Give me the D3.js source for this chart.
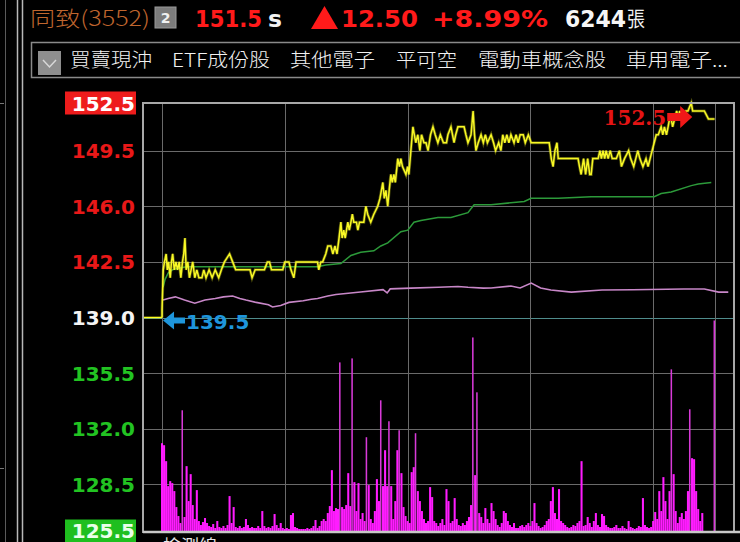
<!DOCTYPE html>
<html>
<head>
  <meta charset="utf-8">
  <style>
    body { margin: 0; background: #000; }
    svg { display: block; background: #000; }
    .tick line { display: none; }
    .domain { display: none; }
    .ylab text { font-family: "DejaVu Sans", Verdana, sans-serif; font-weight: bold; font-size: 20px; }
    .grid line { stroke: #6a6a6a; stroke-width: 1.2px; shape-rendering: crispEdges; }
    path.line { fill: none; }
  </style>
  <script src="https://d3js.org/d3.v7.min.js"></script>
</head>
<body>
<div id="chart"></div>
<script>
  // stock header
  var stockName = "同致(3552)";
  var lastPrice = "151.5";
  var change = "12.50";
  var changePct = "+8.99%";
  var totalVol = "6244";
  var groupTabs = ["買賣現沖", "ETF成份股", "其他電子", "平可空", "電動車概念股", "車用電子..."];

  // price axis
  var prevClose = 139.0;
  var priceTicks = [152.5, 149.5, 146.0, 142.5, 139.0, 135.5, 132.0, 128.5, 125.5];
  // minutes after 9:00, grid every hour, close at 13:30
  var timeTicks = [0, 60, 120, 180, 240, 270];
  var highMark = [258.6, 152.5];
  var lowMark = [0, 139.5];

  // trades [minute, price]
  var trades = [
    [0,139.5],[0.6,142.0],[1.2,142.5],[2,143.0],[2.6,142.0],[3.2,142.5],[4,141.5],[4.6,142.5],[5.2,143.0],[6,142.0],
    [6.8,142.5],[7.6,142.0],[8.4,142.5],[9.2,141.5],[10,142.5],[10.6,143.0],[11.2,144.0],[11.8,142.0],[12.6,142.5],[13.4,141.5],
    [14.2,142.0],[15,142.5],[16,141.5],[17,142.0],[18,141.5],[19.5,141.5],[20.4,142.0],[21.5,141.5],[23,142.0],[24.5,141.5],
    [26,142.0],[27.7,141.5],[29,142.0],[30.5,142.5],[33,143.0],[34.5,142.5],[36,142.0],[43,142.0],[44,141.5],[45.5,142.0],
    [50,142.0],[51.5,142.5],[52.5,142.5],[53.5,142.0],[59,142.0],[60,142.5],[62,142.5],[63,142.0],[64.4,141.5],[65.5,142.5],
    [76,142.5],[76.6,142.0],[77.6,142.5],[78.5,142.5],[80,143.0],[81,143.5],[82.5,143.5],[83.5,143.0],[84.5,143.5],[85.5,143.0],
    [86.5,144.0],[87.4,145.0],[88,144.0],[88.8,144.5],[89.5,144.0],[90.8,145.0],[91.5,144.5],[92.3,145.0],[93,145.5],[93.7,145.0],
    [95,145.0],[95.7,144.5],[96.5,145.0],[98.6,145.0],[99.6,146.0],[100.5,145.5],[102,145.0],[103.5,145.5],[105.4,146.0],[106.5,146.5],
    [107.9,147.5],[108.6,146.5],[109.4,147.0],[110.3,146.0],[111,147.0],[111.8,148.0],[112.5,147.5],[113.3,148.0],[114,147.5],[115.2,149.0],
    [116,148.5],[116.7,149.0],[117.5,148.5],[119.2,148.0],[120,148.5],[120.6,148.0],[121.6,149.5],[122.6,151.0],[123.3,150.5],[124,150.0],
    [125,150.5],[126,149.5],[126.8,150.5],[128,150.0],[129,150.0],[130,149.5],[131.2,150.5],[132.4,151.0],[133.5,150.5],[134.8,150.0],
    [136,150.5],[137.5,150.0],[139,150.0],[139.7,150.5],[141.2,151.0],[142.7,150.0],[143.5,150.5],[144.6,151.0],[147.6,151.0],[148.5,150.5],
    [149.5,150.0],[151,150.5],[152,152.0],[152.7,150.5],[153.4,149.5],[154.5,150.0],[155.9,150.5],[157,150.0],[158,150.5],[159,150.0],
    [160.8,150.5],[162,150.0],[163,149.5],[164.5,150.0],[165.6,149.5],[166.5,150.5],[167.5,150.0],[168.5,150.5],[169.5,150.0],[170.5,150.5],
    [172,150.0],[173,150.5],[174,150.0],[175,150.5],[176.5,150.5],[177.5,150.0],[179,150.5],[180.4,150.0],[189.2,150.0],[190.2,149.0],
    [191.1,148.5],[192,149.5],[193,150.0],[193.6,149.0],[203.3,149.0],[204,148.5],[204.8,148.0],[206,149.0],[207,148.0],[208,149.0],
    [209,148.0],[209.7,148.0],[210.5,149.0],[213.1,149.0],[214,149.5],[214.7,149.0],[215.5,149.5],[216.3,149.0],[217,149.5],[218,149.0],
    [219,149.5],[220,149.0],[222,149.0],[223.5,149.5],[224.5,148.5],[226,149.0],[228,149.5],[229,149.0],[230.5,148.5],[231.5,149.0],
    [232.5,149.5],[233.5,149.0],[235,148.5],[236.5,149.0],[237.5,148.5],[238.5,149.0],[239.5,149.5],[240.5,150.0],[241.5,150.5],[242.5,150.5],
    [243.9,151.0],[244.7,150.5],[245.5,151.0],[246.5,150.5],[247.3,151.0],[248,151.5],[248.8,151.5],[249.5,151.0],[250.5,151.5],[251.5,152.0],
    [252.2,151.5],[253,152.0],[254,151.5],[255.2,151.5],[256,152.0],[257,152.0],[258.6,152.5],[259.3,152.0],[265,152.0],[267,151.5],
    [270,151.5]
  ];

  // average price [minute, price]
  var avgPrice = [
    [0.5,140.9],[1.5,141.4],[3,141.8],[5,142.0],[8,142.1],[12,142.2],[76,142.2],[80,142.3],[87.4,142.4],[92.3,142.9],
    [97.1,143.1],[103.5,143.2],[106.9,143.5],[110.3,143.7],[116.7,144.4],[120.1,144.5],[123.1,145.0],[126.5,145.1],[134.8,145.3],[141.2,145.3],
    [149.5,145.6],[152.5,146.1],[160.8,146.1],[177,146.3],[180.4,146.5],[193.6,146.5],[209.7,146.6],[240.5,146.6],[243.9,146.8],[248.8,146.9],
    [258.6,147.3],[262,147.4],[268.4,147.5]
  ];

  // reference (index) line in price units [minute, value]
  var refLine = [
    [0.5,140.1],[3,140.2],[6.5,140.3],[11,140.1],[16,139.9],[21,140.1],[26,140.2],[30,140.3],[34.5,140.35],[38,140.2],
    [41,140.1],[46,139.95],[52,139.8],[54,139.66],[58,139.75],[62,139.95],[69,140.05],[73,140.15],[76,140.2],[81,140.35],
    [85,140.45],[97,140.6],[108,140.75],[110,140.55],[111.5,140.8],[121.6,140.85],[135,140.9],[144.6,140.95],[149.5,140.9],[157,140.85],
    [160.8,140.86],[170.5,140.98],[175,140.86],[180.4,141.17],[185,140.86],[190,140.73],[200,140.6],[215,140.73],[230,140.75],[255,140.79],
    [265,140.79],[272,140.6],[276.7,140.6]
  ];

  // volume per minute (張), minute 0..270
  var volume = [
    88,86,70,45,50,48,40,24,15,8,
    121,14,65,30,57,26,12,41,10,6,
    9,13,8,5,4,7,3,10,4,3,
    5,3,6,35,8,24,4,3,5,3,
    4,12,6,3,4,3,3,5,3,20,
    5,3,4,3,5,17,6,3,8,3,
    2,3,2,16,18,4,3,2,2,2,
    2,3,2,3,5,11,3,5,10,12,
    10,18,25,61,20,23,22,169,24,22,
    26,58,25,173,49,20,48,12,18,10,
    94,46,12,8,20,52,30,131,45,81,
    45,110,45,12,30,81,101,58,24,15,
    10,8,59,64,98,40,30,20,12,8,
    10,44,34,10,8,5,8,12,6,42,
    30,8,10,33,12,6,5,8,6,10,
    14,26,194,56,139,18,14,8,23,12,
    8,28,20,12,6,4,8,20,18,10,
    6,4,8,3,3,5,6,4,6,8,
    5,10,28,8,5,3,4,6,10,12,
    30,44,18,12,42,10,8,6,4,3,
    4,6,5,8,10,70,5,6,14,8,
    4,10,18,6,4,17,15,6,4,3,
    3,4,6,3,3,5,3,2,10,4,
    3,2,3,5,4,33,6,4,3,4,
    10,19,12,40,20,54,30,12,40,162,
    57,20,8,14,18,12,20,40,122,73,
    72,40,22,10,18,0,0,0,0,0,
    211
  ];

  var W = 740, H = 542;
  var plot = { left: 143, right: 734, top: 103, bottom: 532 };

  var svg = d3.select("#chart").append("svg")
    .attr("width", W)
    .attr("height", H);

  var x = d3.scaleLinear().domain([-9.3, 279.5]).range([plot.left, plot.right]);
  var y = d3.scaleLinear().domain([125.5, 152.5]).range([plot.bottom, plot.top]);
  var yVol = d3.scaleLinear().domain([0, 214]).range([plot.bottom - 1, y(prevClose)]);

  // ---- outer frame on the left ----
  svg.append("line").attr("x1", 5.5).attr("x2", 5.5).attr("y1", 0).attr("y2", H)
    .attr("stroke", "#5a5a5a").attr("stroke-width", 1);
  [17.5, 22.5].forEach(function(xx) {
    svg.append("line").attr("x1", xx).attr("x2", xx).attr("y1", 0).attr("y2", H)
      .attr("stroke", "#b8b8b8").attr("stroke-width", 1.5);
  });
  [103.5, 468.5].forEach(function(yy) {
    svg.append("line").attr("x1", 0).attr("x2", 4).attr("y1", yy).attr("y2", yy)
      .attr("stroke", "#777");
  });

  // ---- header ----
  var head = svg.append("g");
  head.append("text").attr("x", 30).attr("y", 26)
    .attr("textLength", 120).attr("lengthAdjust", "spacingAndGlyphs")
    .style("font-family", "'Noto Sans CJK TC', sans-serif").style("font-size", "21px").style("font-weight", "300")
    .style("fill", "#c0662e").text(stockName);
  head.append("rect").attr("x", 155).attr("y", 7).attr("width", 21).attr("height", 21)
    .attr("fill", "#7c7c7c").attr("stroke", "#9a9a9a");
  head.append("text").attr("x", 165.5).attr("y", 23).attr("text-anchor", "middle")
    .style("font-family", "'DejaVu Sans', sans-serif").style("font-size", "14px").style("font-weight", "bold")
    .style("fill", "#f0f0f0").text("2");

  function headNum(txt, x0, w, color) {
    head.append("text").attr("x", x0).attr("y", 27)
      .attr("textLength", w).attr("lengthAdjust", "spacingAndGlyphs")
      .style("font-family", "'DejaVu Sans', Verdana, sans-serif").style("font-size", "23px").style("font-weight", "bold")
      .style("fill", color).text(txt);
  }
  headNum(lastPrice, 195, 67, "#ff1a1a");
  headNum("s", 268, 14, "#f2f2f2");
  head.append("path").attr("d", "M311,29 L324.5,6 L338,29 Z").attr("fill", "#ff1a1a");
  headNum(change, 341, 77, "#ff1a1a");
  headNum(changePct, 432, 116, "#ff1a1a");
  headNum(totalVol, 565, 61, "#f6f6f6");
  head.append("text").attr("x", 627).attr("y", 26)
    .attr("textLength", 18).attr("lengthAdjust", "spacingAndGlyphs")
    .style("font-family", "'Noto Sans CJK TC', sans-serif").style("font-size", "21px")
    .style("fill", "#f0f0f0").text("張");

  // ---- group tabs ----
  var tabs = svg.append("g");
  tabs.append("rect").attr("x", 31.5).attr("y", 42.5).attr("width", 720).attr("height", 35)
    .attr("fill", "none").attr("stroke", "#8a8a8a").attr("stroke-width", 1.5);
  tabs.append("rect").attr("x", 38).attr("y", 51).attr("width", 23).attr("height", 24)
    .attr("fill", "#8e8e8e");
  tabs.append("path").attr("d", "M43,60 L49.5,67 L56,60")
    .attr("fill", "none").attr("stroke", "#d8d8d8").attr("stroke-width", 1.5);
  var tabX = [70, 172, 290, 396, 478, 626];
  var tabW = [82, 98, 85, 61, 128, 102];
  tabs.selectAll("text.tab").data(groupTabs).enter().append("text")
    .attr("class", "tab")
    .attr("x", function(d, i) { return tabX[i]; })
    .attr("y", 67)
    .attr("textLength", function(d, i) { return tabW[i]; })
    .attr("lengthAdjust", "spacingAndGlyphs")
    .style("font-family", "'Noto Sans CJK TC', sans-serif").style("font-size", "19px").style("font-weight", "300")
    .style("fill", "#f2f2f2")
    .text(function(d) { return d; });

  // ---- grid ----
  var grid = svg.append("g").attr("class", "grid");
  grid.selectAll("line.h").data(priceTicks.slice(1, -1)).enter().append("line")
    .attr("class", "h")
    .attr("x1", plot.left).attr("x2", plot.right)
    .attr("y1", function(d) { return Math.round(y(d)) + 0.5; })
    .attr("y2", function(d) { return Math.round(y(d)) + 0.5; })
    .style("stroke", function(d) { return d === prevClose ? "#4f8c8c" : null; });
  grid.selectAll("line.v").data(timeTicks).enter().append("line")
    .attr("class", "v")
    .attr("x1", function(d) { return Math.round(x(d)) + 0.5; })
    .attr("x2", function(d) { return Math.round(x(d)) + 0.5; })
    .attr("y1", plot.top).attr("y2", plot.bottom);

  // ---- volume bars ----
  var bw = x(1) - x(0);
  svg.append("g").selectAll("rect").data(volume).enter().append("rect")
    .attr("x", function(d, i) { return x(i) - bw * 0.5; })
    .attr("width", function(d) { return d > 90 ? bw * 0.75 : bw; })
    .attr("y", function(d) { return yVol(d); })
    .attr("height", function(d) { return yVol(0) - yVol(d); })
    .attr("fill", function(d) { return d > 90 ? "#d83ad8" : "#ff1cff"; });

  // ---- lines ----
  var line = d3.line()
    .x(function(d) { return x(d[0]); })
    .y(function(d) { return y(d[1]); });

  svg.append("path").datum(refLine).attr("class", "line").attr("d", line)
    .style("stroke", "#c887c8").style("stroke-width", 1.6);
  svg.append("path").datum(avgPrice).attr("class", "line").attr("d", line)
    .style("stroke", "#2c9a3a").style("stroke-width", 1.5);
  // pre-open at previous close, then trades
  svg.append("path").datum([[x.domain()[0], prevClose], [0, prevClose]]).attr("class", "line").attr("d", line)
    .style("stroke", "#ffff1e").style("stroke-width", 1.6);
  var tradePath = [[0, prevClose]].concat(trades);
  svg.append("path").datum(tradePath).attr("class", "line").attr("d", line)
    .style("stroke", "#e8e820").style("stroke-width", 3).style("opacity", 0.35);
  svg.append("path").datum(tradePath).attr("class", "line").attr("d", line)
    .style("stroke", "#f8f826").style("stroke-width", 1.5);

  // ---- plot border ----
  svg.append("rect")
    .attr("x", plot.left).attr("y", plot.top)
    .attr("width", plot.right - plot.left).attr("height", plot.bottom - plot.top)
    .attr("fill", "none").attr("stroke", "#a8a8a8").attr("stroke-width", 2);
  svg.append("line").attr("x1", plot.left).attr("x2", W).attr("y1", plot.bottom).attr("y2", plot.bottom)
    .attr("stroke", "#c8c8c8").attr("stroke-width", 2.5);

  // ---- y axis labels ----
  var yAxis = d3.axisLeft(y).tickValues(priceTicks).tickFormat(d3.format(".1f")).tickSize(0).tickPadding(8);
  var gy = svg.append("g").attr("class", "ylab")
    .attr("transform", "translate(" + plot.left + ",0)");
  gy.call(yAxis);
  gy.selectAll(".tick").each(function(d) {
    var t = d3.select(this);
    var top = d === priceTicks[0], bot = d === priceTicks[priceTicks.length - 1];
    if (top || bot) {
      t.insert("rect", "text")
        .attr("x", -78).attr("y", top ? -12 : -13).attr("width", 71).attr("height", 23)
        .attr("fill", top ? "#ee1c1c" : "#1fbf1f");
    }
    t.select("text")
      .attr("dy", bot ? "0.25em" : "0.35em")
      .style("fill", top ? "#ffffff" : bot ? "#eaffea" : d > prevClose ? "#e81818" : d < prevClose ? "#22c322" : "#f4f4f4");
  });

  // ---- high / low markers ----
  var hx = x(highMark[0]), hy = y(highMark[1]);
  svg.append("path")
    .attr("d", "M" + (hx - 24) + "," + (hy + 10) + " l13,0 l0,-7 l12,11 l-12,11 l0,-7 l-13,0 Z")
    .attr("fill", "#f01818");
  svg.append("text").attr("x", hx - 25).attr("y", hy + 22).attr("text-anchor", "end")
    .style("font-family", "'DejaVu Serif', serif").style("font-size", "20px").style("font-weight", "bold")
    .style("fill", "#e41414").text(highMark[1].toFixed(1));

  var lx = x(lowMark[0]), ly = y(prevClose) + 3;
  svg.append("path")
    .attr("d", "M" + (lx + 1) + "," + ly + " l11,-9 l0,6 l11,0 l0,6 l-11,0 l0,6 Z")
    .attr("fill", "#1e96dc");
  svg.append("text").attr("x", lx + 24).attr("y", ly + 8)
    .style("font-family", "'DejaVu Sans', Verdana, sans-serif").style("font-size", "20px").style("font-weight", "bold")
    .style("fill", "#1e96dc").text(lowMark[1].toFixed(1));

  // cut-off label under the chart
  svg.append("text").attr("x", 163).attr("y", 553)
    .style("font-family", "'Noto Sans CJK TC', sans-serif").style("font-size", "18px")
    .style("fill", "#e8e8e8").text("檢測線");
</script>
</body>
</html>
